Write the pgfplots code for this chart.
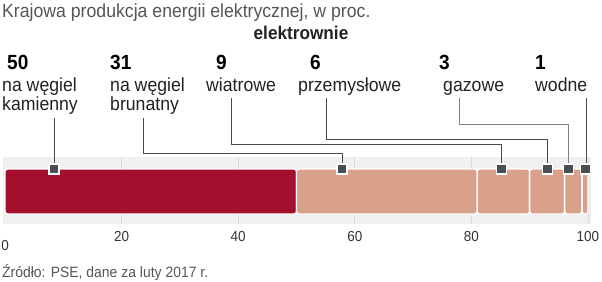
\documentclass[border=0pt]{standalone}
\usepackage{fontspec}
\setmainfont{Liberation Sans}[FakeStretch=0.93]
\usepackage{pgfplots}
\pgfplotsset{compat=1.18}
\definecolor{redc}{HTML}{A30F2C}
\definecolor{salmon}{HTML}{D9A08A}
\definecolor{mk}{HTML}{4A4D52}
\definecolor{band}{HTML}{EEF0F2}
\definecolor{gridc}{HTML}{D8DADC}
\definecolor{tickc}{HTML}{333333}
\definecolor{titlec}{HTML}{555555}
\definecolor{labc}{HTML}{222222}
\definecolor{leadc}{HTML}{4A4A4A}
\begin{document}
\begin{tikzpicture}[x=1pt,y=1pt]
\useasboundingbox (0,0) rectangle (602,-281);
\begin{axis}[at={(2.67pt,-224pt)}, anchor=south west, scale only axis,
  width=588.2pt, height=67pt,
  xmin=-0.4, xmax=100.5, ymin=-224, ymax=-157, clip=false,
  axis line style={draw=none}, ytick=\empty,
  xtick={20,40,60,80,100}, extra x ticks={0},
  extra x tick style={grid=none, xticklabel style={yshift=-9pt}},
  major tick length=0pt, xmajorgrids,
  grid style={draw=gridc, line width=0.7pt},
  axis background/.style={fill=band},
  xticklabel style={font=\fontsize{14.5}{14.5}\selectfont, text=tickc, anchor=north, inner sep=0pt, yshift=-7pt},
  /pgf/number format/assume math mode=true,
  leader/.style={draw=leadc, line width=0.9pt, mark=none},
  seg/.style={draw=white, line width=1.4pt, rounded corners=2.5pt, mark=none},
]
% segments: 50, 31, 9, 6, 3, 1
\addplot[seg, fill=redc] coordinates {(0,-214) (50,-214) (50,-169) (0,-169)} -- cycle;
\addplot[seg, fill=salmon] coordinates {(50,-214) (81,-214) (81,-169) (50,-169)} -- cycle;
\addplot[seg, fill=salmon] coordinates {(81,-214) (90,-214) (90,-169) (81,-169)} -- cycle;
\addplot[seg, fill=salmon] coordinates {(90,-214) (96,-214) (96,-169) (90,-169)} -- cycle;
\addplot[seg, fill=salmon] coordinates {(96,-214) (99,-214) (99,-169) (96,-169)} -- cycle;
\addplot[seg, fill=salmon] coordinates {(99,-214) (100,-214) (100,-169) (99,-169)} -- cycle;
% leader lines
\addplot[leader] coordinates {(8.4,-118) (8.4,-169)};
\addplot[leader] coordinates {(23.7,-118) (23.7,-153) (57.8,-153) (57.8,-169)};
\addplot[leader] coordinates {(38.9,-98) (38.9,-144) (85.1,-144) (85.1,-169)};
\addplot[leader] coordinates {(55.1,-98) (55.1,-139) (93.0,-139) (93.0,-169)};
\addplot[leader, draw=gray] coordinates {(77.9,-98) (77.9,-124) (96.7,-124) (96.7,-169)};
\addplot[leader] coordinates {(99.7,-98) (99.7,-169)};
% markers
\addplot[only marks, mark=square*, mark size=5pt, mark options={fill=mk, draw=white, line width=1.2pt}]
  coordinates {(8.4,-169) (57.8,-169) (85.1,-169) (93.0,-169) (96.7,-169) (99.6,-169)};
\end{axis}
% texts
\node[anchor=base west, inner sep=0, text=titlec, font=\fontsize{19}{19}\selectfont] at (2,-17) {Krajowa produkcja energii elektrycznej, w proc.};
\node[anchor=base, inner sep=0, text=labc, font=\bfseries\fontsize{18.5}{18.5}\selectfont] at (301,-39) {elektrownie};
\begin{scope}[every node/.style={anchor=base west, inner sep=0}]
\foreach \x/\n in {7/50, 110/31, 216/9, 310/6, 439/3, 535/1}
  \node[text=black, font=\bfseries\fontsize{20.5}{20.5}\selectfont] at (\x,-69) {\n};
\foreach \x/\l in {2/na węgiel, 110/na węgiel, 206/wiatrowe, 298/przemysłowe, 443/gazowe, 535/wodne}
  \node[text=labc, font=\fontsize{19}{19}\selectfont] at (\x,-91) {\l};
\node[text=labc, font=\fontsize{19}{19}\selectfont] at (2,-110) {kamienny};
\node[text=labc, font=\fontsize{19}{19}\selectfont] at (110,-110) {brunatny};
\node[text=titlec, font=\fontsize{15}{15}\selectfont] at (2,-277) {Źródło: PSE, dane za luty 2017 r.};
\end{scope}
\end{tikzpicture}
\end{document}
